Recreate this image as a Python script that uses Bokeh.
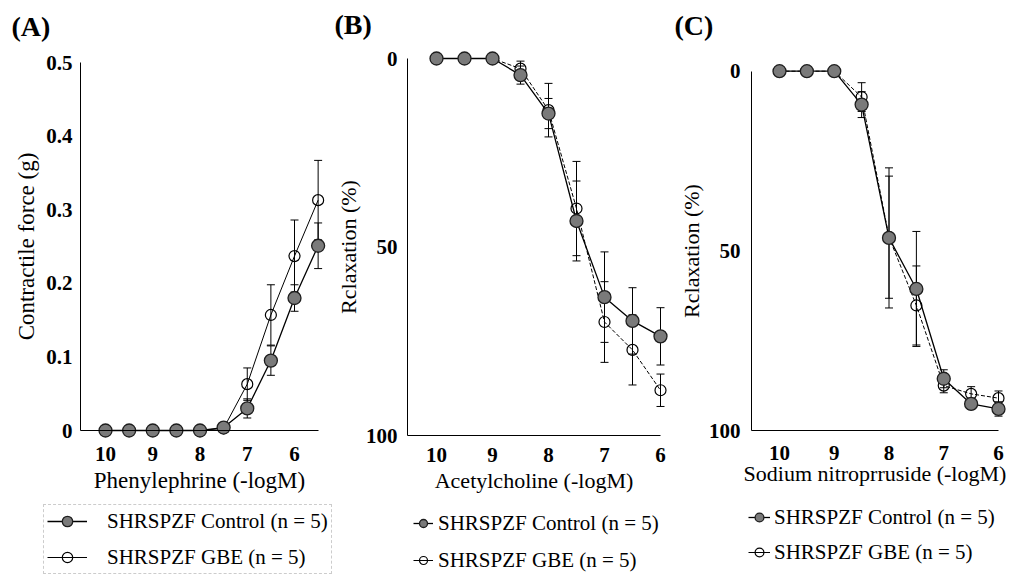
from bokeh.plotting import figure
from bokeh.models import (Range1d, FixedTicker, Legend, LegendItem, Whisker,
                          TeeHead, ColumnDataSource, Label)
from bokeh.layouts import row
from bokeh.embed import file_html
from bokeh.resources import INLINE

# ---------------- data ----------------
x_ticks = [10, 9, 8, 7, 6]

# (A) Phenylephrine, contractile force (g)
pe_x = [10, 9.5, 9, 8.5, 8, 7.5, 7, 6.5, 6, 5.5]
pe_control = [0, 0, 0, 0, 0, 0.004, 0.030, 0.095, 0.180, 0.251]
pe_control_err = [0, 0, 0, 0, 0, 0, 0.013, 0.020, 0.018, 0.031]
pe_gbe = [0, 0, 0, 0, 0, 0.003, 0.063, 0.157, 0.237, 0.313]
pe_gbe_err = [0, 0, 0, 0, 0, 0, 0.022, 0.041, 0.049, 0.054]
pe_y_ticks = [0, 0.1, 0.2, 0.3, 0.4, 0.5]
pe_y_labels = ["0", "0.1", "0.2", "0.3", "0.4", "0.5"]

# (B) Acetylcholine, relaxation (%)
ach_x = [10, 9.5, 9, 8.5, 8, 7.5, 7, 6.5, 6]
ach_control = [0, 0, 0, 4.4, 14.6, 43.1, 63.3, 69.6, 73.7]
ach_control_err = [0, 0, 0, 2.4, 4.0, 10.6, 12.0, 8.8, 7.6]
ach_gbe = [0, 0, 0, 2.7, 13.7, 39.8, 69.9, 77.3, 88.0]
ach_gbe_err = [0, 0, 0, 2.0, 7.1, 12.5, 10.7, 9.3, 4.3]

# (C) Sodium nitroprusside, relaxation (%)
snp_x = [10, 9.5, 9, 8.5, 8, 7.5, 7, 6.5, 6]
snp_control = [0, 0, 0, 9.3, 46.4, 60.6, 85.6, 92.6, 94.0]
snp_control_err = [0, 0, 0, 3.6, 19.5, 16.0, 2.5, 1.5, 2.0]
snp_gbe = [0, 0, 0, 7.2, 46.2, 65.2, 87.5, 89.8, 91.0]
snp_gbe_err = [0, 0, 0, 4.0, 17.0, 11.0, 2.0, 2.0, 2.0]

relax_ticks = [0, 50, 100]
relax_labels = ["0", "50", "100"]

label_control = "SHRSPZF Control (n = 5)"
label_gbe = "SHRSPZF GBE (n = 5)"

FONT = "Liberation Serif"
H = 578


class Lin:
    """pixel <-> value mapping from two anchors (pixels from left / top)."""
    def __init__(self, v0, p0, v1, p1):
        self.v0, self.p0 = v0, p0
        self.k = (p1 - p0) / (v1 - v0)

    def val(self, p):
        return self.v0 + (p - self.p0) / self.k


def add_errors(p, xs, ys, errs):
    bx, lo, hi = [], [], []
    for x, y, e in zip(xs, ys, errs):
        if e > 0:
            bx.append(x)
            lo.append(y - e)
            hi.append(y + e)
    src = ColumnDataSource(dict(base=bx, lower=lo, upper=hi))
    w = Whisker(base="base", lower="lower", upper="upper", source=src,
                dimension="height", line_color="black", line_width=1,
                upper_head=TeeHead(size=8, line_color="black", line_width=1),
                lower_head=TeeHead(size=8, line_color="black", line_width=1))
    p.add_layout(w)


def make_panel(cfg):
    W = cfg["width"]
    fx = Lin(*cfg["xanchor"])
    fy = Lin(*cfg["yanchor"])
    p = figure(width=W, height=H,
               x_range=Range1d(fx.val(0), fx.val(W)),
               y_range=Range1d(fy.val(H), fy.val(0)),
               output_backend="svg", toolbar_location=None,
               min_border_left=0, min_border_right=0,
               min_border_top=0, min_border_bottom=0)
    p.outline_line_color = None
    p.grid.visible = False
    p.background_fill_color = "white"
    p.border_fill_color = "white"

    xs = cfg["x"]
    add_errors(p, xs, cfg["gbe"], cfg["gbe_err"])
    add_errors(p, xs, cfg["ctrl"], cfg["ctrl_err"])

    p.line(xs, cfg["gbe"], line_color="black", line_width=1,
           line_dash=cfg["gbe_dash"])
    sg = p.scatter(xs, cfg["gbe"], size=11, fill_color=None,
                   line_color="black", line_width=1.2)
    lc = p.line(xs, cfg["ctrl"], line_color="black", line_width=1.3)
    sc = p.scatter(xs, cfg["ctrl"], size=13, fill_color="#7a7a7a",
                   line_color="#1e1e1e", line_width=1.3)
    # single-point solid line: draws nothing in the plot, gives a solid legend key
    lg_key = p.line(xs[:1], cfg["gbe"][:1], line_color="black", line_width=1)

    yaxis_val = fx.val(cfg["yaxis_px"])
    xend_val = fx.val(cfg["xaxis_end_px"])

    # x axis (fixed at the bottom value of the y scale)
    xa = p.xaxis[0]
    xa.ticker = FixedTicker(ticks=x_ticks)
    xa.fixed_location = cfg["xaxis_at"]
    xa.bounds = (min(xend_val, yaxis_val), max(xend_val, yaxis_val))
    xa.axis_label = cfg["xlabel"]
    xa.major_label_standoff = cfg["xstand"][0]
    xa.axis_label_standoff = cfg["xstand"][1]

    # y axis
    ya = p.yaxis[0]
    ya.ticker = FixedTicker(ticks=cfg["yticks"])
    ya.major_label_overrides = {t: l for t, l in zip(cfg["yticks"], cfg["ylabels"])}
    ya.fixed_location = yaxis_val
    ya.bounds = (min(cfg["yticks"]), max(cfg["yticks"]))
    ya.axis_label = cfg["ylabel"]
    ya.major_label_standoff = cfg["ystand"][0]
    ya.axis_label_standoff = cfg["ystand"][1]

    for ax in (xa, ya):
        ax.axis_line_color = "black"
        ax.axis_line_width = 1
        ax.major_tick_line_color = None
        ax.minor_tick_line_color = None
        ax.major_tick_in = 0
        ax.major_tick_out = 0
        ax.minor_tick_in = 0
        ax.minor_tick_out = 0
        ax.major_label_text_font = FONT
        ax.major_label_text_font_style = "bold"
        ax.major_label_text_font_size = "21px"
        ax.major_label_text_color = "black"
        ax.axis_label_text_font = FONT
        ax.axis_label_text_font_style = "normal"
        ax.axis_label_text_font_size = cfg["title_size"]
        ax.axis_label_text_color = "black"

    leg = Legend(items=[LegendItem(label=label_control, renderers=[lc, sc]),
                        LegendItem(label=label_gbe, renderers=[lg_key, sg])],
                 location=cfg["leg_loc"],
                 label_text_font=FONT, label_text_font_size="21px",
                 label_text_color="black",
                 glyph_width=cfg["glyph_w"], glyph_height=26, label_height=26,
                 spacing=cfg["leg_spacing"], padding=cfg["leg_pad"],
                 label_standoff=cfg["leg_standoff"],
                 background_fill_alpha=0,
                 border_line_color=cfg["leg_border"], border_line_dash="1 3",
                 border_line_width=1)
    p.add_layout(leg)

    p.add_layout(Label(x=cfg["tag_pos"][0], y=cfg["tag_pos"][1],
                       x_units="screen", y_units="screen", text=cfg["tag"],
                       text_font=FONT, text_font_style="bold",
                       text_font_size="28px", text_baseline="middle",
                       text_align="left", text_color="black"))
    return p


pA = make_panel(dict(
    width=332, xanchor=(10, 105, 6, 294), yanchor=(0, 430, 0.5, 62),
    yaxis_px=80, xaxis_end_px=318, xaxis_at=0,
    x=pe_x, ctrl=pe_control, ctrl_err=pe_control_err, gbe=pe_gbe, gbe_err=pe_gbe_err,
    gbe_dash="solid", xlabel="Phenylephrine (-logM)", xstand=(16, 4),
    yticks=pe_y_ticks, ylabels=pe_y_labels,
    ylabel="Contractile force (g)", ystand=(8, 4), title_size="23px",
    leg_loc=(43, 4), glyph_w=40, leg_spacing=10, leg_pad=3, leg_standoff=20,
    leg_border="#9a9a9a", tag="(A)", tag_pos=(11, H - 26)))

pB = make_panel(dict(
    width=340, xanchor=(10, 104, 6, 328), yanchor=(0, 58, 100, 435),
    yaxis_px=75, xaxis_end_px=328, xaxis_at=100,
    x=ach_x, ctrl=ach_control, ctrl_err=ach_control_err, gbe=ach_gbe, gbe_err=ach_gbe_err,
    gbe_dash="4 2", xlabel="Acetylcholine (-logM)", xstand=(12, 3),
    yticks=relax_ticks, ylabels=relax_labels,
    ylabel="Rclaxation (%)", ystand=(10, 2), title_size="22px",
    leg_loc=(81, 5), glyph_w=20, leg_spacing=11, leg_pad=2, leg_standoff=5,
    leg_border=None, tag="(B)", tag_pos=(2, H - 24)))

pC = make_panel(dict(
    width=343, xanchor=(10, 107, 6, 326), yanchor=(0, 70.7, 100, 430),
    yaxis_px=79, xaxis_end_px=326, xaxis_at=100,
    x=snp_x, ctrl=snp_control, ctrl_err=snp_control_err, gbe=snp_gbe, gbe_err=snp_gbe_err,
    gbe_dash="4 2", xlabel="Sodium nitroprruside (-logM)", xstand=(15, -2),
    yticks=relax_ticks, ylabels=relax_labels,
    ylabel="Rclaxation (%)", ystand=(11, 2), title_size="22px",
    leg_loc=(76, 13), glyph_w=22, leg_spacing=9, leg_pad=2, leg_standoff=4,
    leg_border=None, tag="(C)", tag_pos=(2, H - 25)))

layout = row(pA, pB, pC, spacing=0)
open("out.html", "w").write(file_html(layout, INLINE))
